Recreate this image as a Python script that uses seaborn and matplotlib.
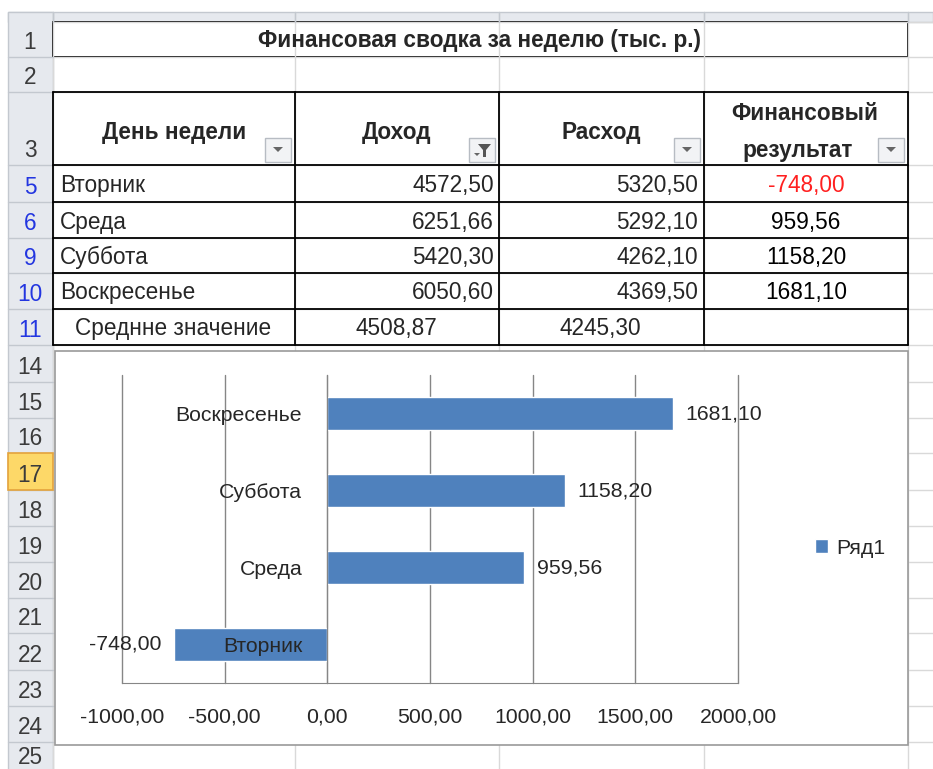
import matplotlib
matplotlib.use('Agg')
import matplotlib.pyplot as plt
import seaborn as sns
import pandas as pd
from matplotlib.patches import Rectangle, Polygon

# data from the sheet
days = ['Вторник', 'Среда', 'Суббота', 'Воскресенье']
income = [4572.50, 6251.66, 5420.30, 6050.60]
expense = [5320.50, 5292.10, 4262.10, 4369.50]
result = [-748.00, 959.56, 1158.20, 1681.10]
avg_label = 'Среднне значение'
avg_income = 4508.87
avg_expense = 4245.30
title = 'Финансовая сводка за неделю (тыс. р.)'
headers = ['День недели', 'Доход', 'Расход', 'Финансовый\nрезультат']
series_name = 'Ряд1'
x_ticks = [-1000, -500, 0, 500, 1000, 1500, 2000]
row_names = ['1', '2', '3', '5', '6', '9', '10', '11', '14', '15', '16', '17',
             '18', '19', '20', '21', '22', '23', '24', '25']


def fmt(v):
    return f'{v:.2f}'.replace('.', ',')


sns.set_style('white')
plt.rcParams['font.family'] = ['Liberation Sans', 'DejaVu Sans']
FS = 16.3

W, H = 933, 769
fig = plt.figure(figsize=(W / 100, H / 100), dpi=100)
bg = fig.add_axes([0, 0, 1, 1])
bg.set_xlim(0, W)
bg.set_ylim(H, 0)
bg.axis('off')

# row borders (pixels) of the sheet
row_edges = [22, 57, 92, 165, 202, 238, 273, 309, 345, 382, 418, 453, 490,
             526, 562, 598, 633, 670, 706, 742, 778]
col_edges = [53, 295, 499, 704, 908]

# sheet grid
for y in row_edges:
    bg.plot([53, W], [y, y], color='#d9d9d9', lw=1)
for x in col_edges:
    bg.plot([x, x], [12, H], color='#d9d9d9', lw=1)

# headers strips
bg.add_patch(Rectangle((8, 12), W - 8, 10, facecolor='#e6e9ee', edgecolor='#c3c8cf', lw=1))
bg.add_patch(Rectangle((8, 12), 45, H, facecolor='#e6e9ee', edgecolor='#c3c8cf', lw=1))
for x in col_edges:
    bg.plot([x, x], [12, 22], color='#c3c8cf', lw=1)
for i, name in enumerate(row_names):
    top, bot = row_edges[i], row_edges[i + 1]
    if name == '17':
        bg.add_patch(Rectangle((8, top), 45, bot - top, facecolor='#fdd868',
                               edgecolor='#e4a33c', lw=1.2, zorder=3))
    bg.plot([8, 53], [bot, bot], color='#c3c8cf', lw=1)
    col = '#2336e0' if name in ('5', '6', '9', '10', '11') else '#3b3b3b'
    bg.text(30, min(bot - 8, 764), name, ha='center', va='baseline', fontsize=FS,
            color=col, zorder=4)

# title row
bg.add_patch(Rectangle((53, 22), 855, 35, facecolor='white', edgecolor='black', lw=1.3))
bg.text(480, 41, title, ha='center', va='center', fontsize=FS, fontweight='bold')

# table area
bg.add_patch(Rectangle((54, 93), 854, 252, facecolor='white', lw=0))
for y in row_edges[2:9]:
    bg.plot([53, 908], [y, y], color='black', lw=1.3)
for x in col_edges:
    bg.plot([x, x], [92, 345], color='black', lw=1.3)

hdr_x = [174, 396, 601, 805]
for i, h in enumerate(headers):
    if '\n' in h:
        a, b = h.split('\n')
        bg.text(hdr_x[i], 114, a, ha='center', va='center', fontsize=FS, fontweight='bold')
        bg.text(hdr_x[i] - 7, 151, b, ha='center', va='center', fontsize=FS, fontweight='bold')
    else:
        bg.text(hdr_x[i], 132, h, ha='center', va='center', fontsize=FS, fontweight='bold')
    # filter button
    bx = col_edges[i + 1] - 30
    bg.add_patch(Rectangle((bx, 138), 26, 24, facecolor='#f2f3f5', edgecolor='#b7bcc3', lw=1))
    if i == 1:
        bg.add_patch(Polygon([[bx + 9, 144], [bx + 22, 144], [bx + 17, 150],
                              [bx + 17, 157], [bx + 14, 157], [bx + 14, 150]],
                             closed=True, facecolor='#555555', lw=0))
        bg.add_patch(Polygon([[bx + 5, 153], [bx + 11, 153], [bx + 8, 156]],
                             closed=True, facecolor='#666666', lw=0))
    else:
        bg.add_patch(Polygon([[bx + 8, 147], [bx + 18, 147], [bx + 13, 152]],
                             closed=True, facecolor='#666666', lw=0))

for i, d in enumerate(days):
    top, bot = row_edges[3 + i], row_edges[4 + i]
    yc = (top + bot) / 2 + 2
    bg.text(60, yc, d, ha='left', va='center', fontsize=FS)
    bg.text(494, yc, fmt(income[i]), ha='right', va='center', fontsize=FS)
    bg.text(698, yc, fmt(expense[i]), ha='right', va='center', fontsize=FS)
    bg.text(806, yc, fmt(result[i]), ha='center', va='center', fontsize=FS,
            color='#ff2020' if result[i] < 0 else 'black')
bg.text(75, 329, avg_label, ha='left', va='center', fontsize=FS)
bg.text(396, 329, fmt(avg_income), ha='center', va='center', fontsize=FS)
bg.text(600, 329, fmt(avg_expense), ha='center', va='center', fontsize=FS)

# chart frame
bg.add_patch(Rectangle((55, 351), 853, 394, facecolor='white', edgecolor='#9a9a9a', lw=1.2, zorder=5))

# chart
grey = '#868686'
ax = fig.add_axes([122 / W, 1 - 683 / H, 616 / W, 308 / H])
ax.set_zorder(6)
ax.patch.set_alpha(0)
df = pd.DataFrame({'day': days, 'result': result})
order = days[::-1]
sns.barplot(data=df, x='result', y='day', order=order, orient='h',
            color='#4f81bd', saturation=1, width=0.42, label=series_name, ax=ax)
ax.set_axisbelow(False)
ax.set_xlim(x_ticks[0], x_ticks[-1])
ax.set_ylim(3.5, -0.5)
ax.set_xlabel('')
ax.set_ylabel('')
ax.grid(False)
for v in x_ticks:
    ax.axvline(v, color=grey, lw=1, zorder=0.5, clip_on=False)
for s in ('top', 'right'):
    ax.spines[s].set_visible(False)
ax.spines['left'].set_position(('data', 0))
ax.spines['left'].set_color(grey)
ax.spines['bottom'].set_color(grey)
ax.set_xticks(x_ticks)
ax.set_xticklabels([fmt(v) for v in x_ticks], fontsize=FS - 1)
ax.tick_params(axis='x', length=6.5, color=grey, width=1, pad=11)
ax.set_yticks(range(len(order)))
ax.set_yticklabels(order, fontsize=FS - 1)
ax.tick_params(axis='y', which='major', length=0, pad=18)
ax.set_yticks([-0.5, 0.5, 1.5, 2.5, 3.5], minor=True)
ax.tick_params(axis='y', which='minor', length=4, color=grey, width=1, direction='out')
ax.bar_label(ax.containers[0], labels=[fmt(v) for v in result[::-1]],
             padding=9, fontsize=FS - 1)
ax.legend(loc='center left', bbox_to_anchor=(796 / W, 1 - 548 / H),
          bbox_transform=fig.transFigure, frameon=False, fontsize=FS - 1,
          handlelength=0.6, handleheight=0.6, handletextpad=0.4)

fig.savefig('out.png', dpi=100)
